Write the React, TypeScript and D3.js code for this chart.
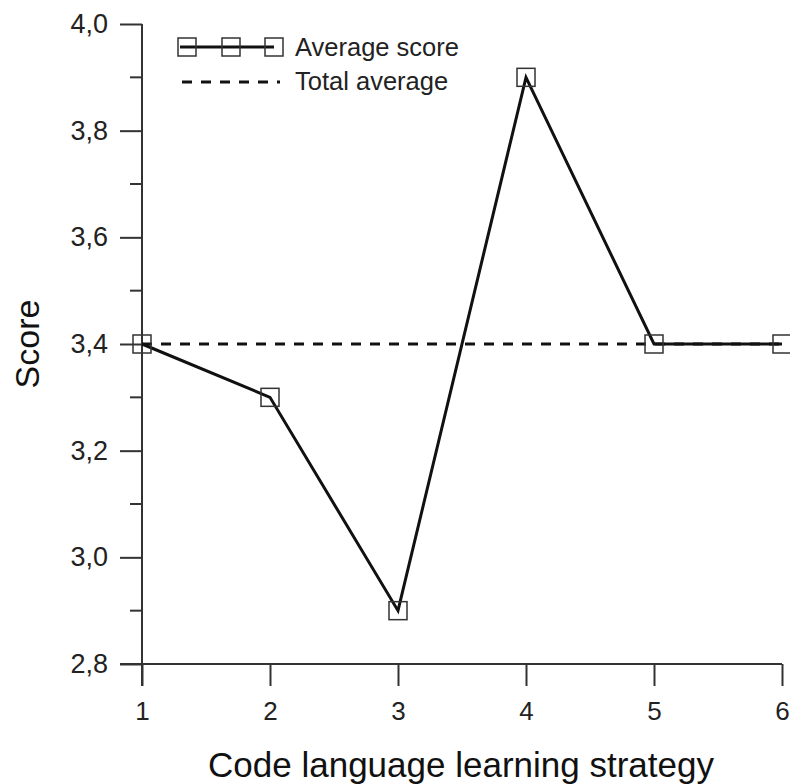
import React, { useEffect, useRef } from 'react';
import * as d3 from 'd3';

const strategies = [1, 2, 3, 4, 5, 6];
const averageScore = [3.4, 3.3, 2.9, 3.9, 3.4, 3.4];
const totalAverage = 3.4;
const yTicks = [2.8, 3.0, 3.2, 3.4, 3.6, 3.8, 4.0];
const yMinorTicks = [2.9, 3.1, 3.3, 3.5, 3.7, 3.9];

const width = 790;
const height = 784;
const margin = { top: 24, right: 8, bottom: 120, left: 142 };
const font = 'Liberation Sans, Arial, sans-serif';

const App = () => {
  const svgRef = useRef<SVGSVGElement>(null);

  useEffect(() => {
    const svg = d3.select(svgRef.current);
    svg.selectAll('*').remove();

    const x = d3.scaleLinear().domain([1, 6]).range([margin.left, 782]);
    const y = d3.scaleLinear().domain([2.8, 4.0]).range([664, margin.top]);
    const axisColor = '#333';

    // axes
    const xAxis = d3.axisBottom(x).tickValues(strategies).tickSize(22).tickPadding(16).tickFormat(d3.format('d'));
    const gx = svg.append('g').attr('transform', `translate(0,${y(2.8)})`).call(xAxis);
    gx.select('.domain').remove();
    gx.append('line').attr('x1', x(1) - 22).attr('x2', x(6)).attr('y1', 0).attr('y2', 0)
      .attr('stroke', axisColor).attr('stroke-width', 2);
    gx.selectAll('.tick line').attr('stroke', axisColor).attr('stroke-width', 2);
    gx.selectAll('.tick text').attr('font-family', font).attr('font-size', 26).attr('fill', '#222');

    const yAxis = d3.axisLeft(y).tickValues(yTicks).tickSize(22).tickPadding(12)
      .tickFormat(d => d3.format('.1f')(d as number).replace('.', ','));
    const gy = svg.append('g').attr('transform', `translate(${x(1)},0)`).call(yAxis);
    gy.select('.domain').remove();
    gy.append('line').attr('x1', 0).attr('x2', 0).attr('y1', y(4.0)).attr('y2', y(2.8) + 22)
      .attr('stroke', axisColor).attr('stroke-width', 2);
    gy.selectAll('.tick line').attr('stroke', axisColor).attr('stroke-width', 2);
    gy.selectAll('.tick text').attr('font-family', font).attr('font-size', 27).attr('fill', '#222');

    // minor ticks
    svg.append('g').selectAll('line').data(yMinorTicks).join('line')
      .attr('x1', x(1) - 12).attr('x2', x(1))
      .attr('y1', d => y(d)).attr('y2', d => y(d))
      .attr('stroke', axisColor).attr('stroke-width', 2);

    // axis titles
    svg.append('text').attr('x', 461).attr('y', 777).attr('text-anchor', 'middle')
      .attr('font-family', font).attr('font-size', 35).attr('fill', '#111')
      .text('Code language learning strategy');
    svg.append('text').attr('transform', `translate(39,${y(3.4)}) rotate(-90)`).attr('text-anchor', 'middle')
      .attr('font-family', font).attr('font-size', 34).attr('fill', '#111')
      .text('Score');

    // total average
    svg.append('line').attr('x1', x(1)).attr('x2', x(6))
      .attr('y1', y(totalAverage)).attr('y2', y(totalAverage))
      .attr('stroke', '#111').attr('stroke-width', 3).attr('stroke-dasharray', '10,9');

    // average score line
    const pts = strategies.map((s, i) => [s, averageScore[i]] as [number, number]);
    const line = d3.line<[number, number]>().x(d => x(d[0])).y(d => y(d[1]));
    svg.append('path').datum(pts).attr('d', line).attr('fill', 'none')
      .attr('stroke', '#111').attr('stroke-width', 3).attr('stroke-linejoin', 'miter');

    const sq = 18;
    svg.append('g').selectAll('rect').data(pts).join('rect')
      .attr('x', d => x(d[0]) - sq / 2).attr('y', d => y(d[1]) - sq / 2)
      .attr('width', sq).attr('height', sq)
      .attr('fill', 'none').attr('stroke', '#333').attr('stroke-width', 1.5);

    // legend
    const lg = svg.append('g');
    lg.append('line').attr('x1', 180).attr('x2', 274).attr('y1', 47).attr('y2', 47)
      .attr('stroke', '#111').attr('stroke-width', 3);
    lg.selectAll('rect').data([187, 231, 274]).join('rect')
      .attr('x', d => d - sq / 2).attr('y', 47 - sq / 2).attr('width', sq).attr('height', sq)
      .attr('fill', 'none').attr('stroke', '#333').attr('stroke-width', 1.5);
    lg.append('text').attr('x', 295).attr('y', 56).attr('font-family', font).attr('font-size', 25.5)
      .attr('fill', '#222').text('Average score');
    lg.append('line').attr('x1', 182).attr('x2', 280).attr('y1', 82).attr('y2', 82)
      .attr('stroke', '#111').attr('stroke-width', 3).attr('stroke-dasharray', '10,9');
    lg.append('text').attr('x', 295).attr('y', 90).attr('font-family', font).attr('font-size', 25.5)
      .attr('fill', '#222').text('Total average');
  }, []);

  return (
    <svg ref={svgRef} width={width} height={height}
      style={{ position: 'absolute', left: 0, top: 0, background: '#fff' }} />
  );
};

export default App;
